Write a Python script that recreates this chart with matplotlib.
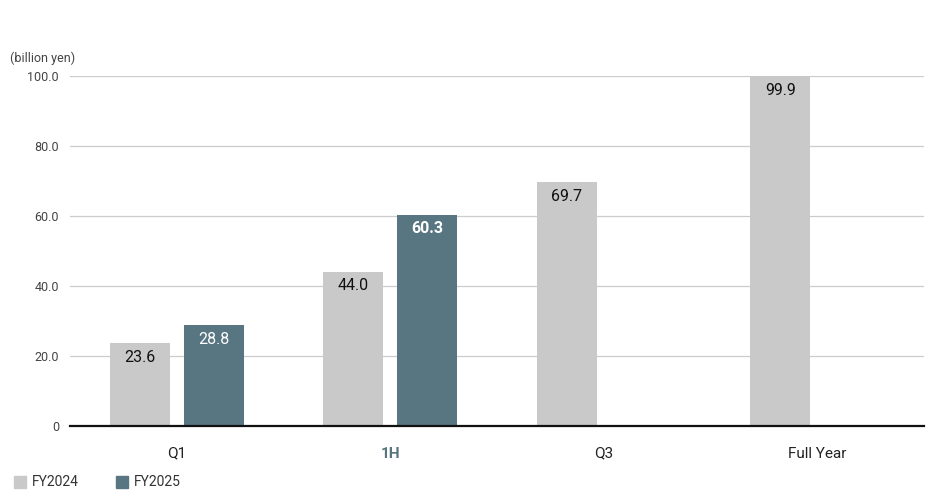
import numpy as np
import matplotlib.pyplot as plt
from matplotlib.patches import Rectangle

plt.rcParams['font.family'] = ['Roboto', 'DejaVu Sans']

categories = ['Q1', '1H', 'Q3', 'Full Year']
fy2024 = [23.6, 44.0, 69.7, 99.9]
fy2025 = [28.8, 60.3, None, None]
yticks = [0, 20, 40, 60, 80, 100]
ytick_labels = ['0', '20.0', '40.0', '60.0', '80.0', '100.0']

c_gray = '#c9c9c9'
c_teal = '#587582'

fig = plt.figure(figsize=(9.45, 4.95), dpi=100)
ax = fig.add_axes([70 / 945, 1 - 426 / 495, 854 / 945, 350 / 495])

x = np.arange(len(categories)) + 0.5
w = 0.28
off = 0.173

for xi, v in zip(x, fy2024):
    ax.bar(xi - off, v, width=w, color=c_gray, zorder=2)
    ax.text(xi - off, v - 4, f'{v:.1f}', ha='center', va='center',
            fontsize=11.5, color='#111111', zorder=3)

for i, (xi, v) in enumerate(zip(x, fy2025)):
    if v is None:
        continue
    ax.bar(xi + off, v, width=w, color=c_teal, zorder=2)
    ax.text(xi + off, v - 4, f'{v:.1f}', ha='center', va='center',
            fontsize=11.5, color='white',
            fontweight='bold' if categories[i] == '1H' else 'normal', zorder=3)

ax.set_xlim(0, 4)
ax.set_ylim(0, 100)
ax.set_yticks(yticks)
ax.set_yticklabels(ytick_labels, fontsize=9, color='#444444')
ax.set_xticks(x)
ax.set_xticklabels(categories, fontsize=11, color='#222222')
lbl = ax.get_xticklabels()[1]
lbl.set_color(c_teal)
lbl.set_fontweight('bold')
ax.tick_params(axis='both', length=0)
ax.tick_params(axis='y', pad=8)
ax.tick_params(axis='x', pad=15)

ax.grid(axis='y', color='#cccccc', linewidth=0.9, zorder=0)
for s in ['top', 'right', 'left']:
    ax.spines[s].set_visible(False)
ax.spines['bottom'].set_linewidth(1.6)
ax.spines['bottom'].set_color('#111111')
ax.spines['bottom'].set_zorder(4)

fig.text(10 / 945, 1 - 58 / 495, '(billion yen)', fontsize=9, color='#444444',
         va='center', ha='left')

# legend
for px, col, name in [(14, c_gray, 'FY2024'), (116, c_teal, 'FY2025')]:
    fig.patches.append(Rectangle((px / 945, 1 - 488 / 495), 12 / 945, 12 / 495,
                                 transform=fig.transFigure, color=col))
    fig.text((px + 18) / 945, 1 - 482 / 495, name, fontsize=10,
             color='#333333', va='center', ha='left')

fig.savefig('out.png', dpi=100)
